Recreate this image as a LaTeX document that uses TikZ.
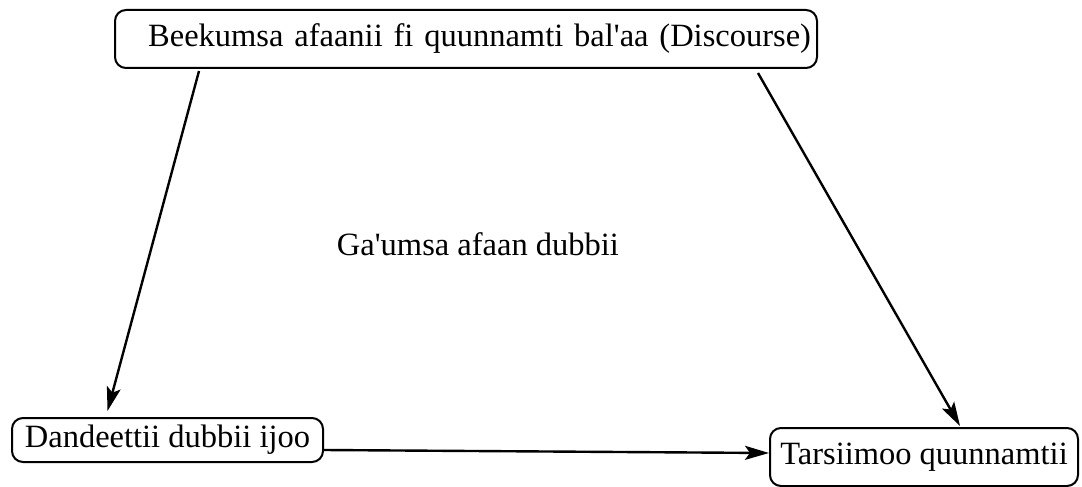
\documentclass[tikz,border=0pt]{standalone}
\usepackage{fontspec}
\setmainfont{Liberation Serif}
\usetikzlibrary{arrows.meta,positioning}

\tikzset{
  ibox/.style={draw=black,line width=2pt,rounded corners=11pt,inner sep=0pt,
    font=\fontsize{32.5}{38}\selectfont},
  link/.style={line width=2.4pt,-{Stealth[length=24pt,width=14pt,inset=5pt]}}
}

\begin{document}
\begin{tikzpicture}[x=1pt,y=-1pt]

\useasboundingbox (0,0) rectangle (1082,487);

\node[ibox,text width=690pt,align=right,inner xsep=6pt,minimum height=58pt] (beek) at (466,39) {Beekumsa afaanii fi quunnamti bal\textquotesingle aa (Discourse)};
\node[ibox,minimum width=311pt,minimum height=44pt] (dand) at (167.5,440) {Dandeettii dubbii ijoo};
\node[ibox,minimum width=308pt,minimum height=58pt] (tars) at (924,457) {Tarsiimoo quunnamtii};
\node[font=\fontsize{32.5}{38}\selectfont] (gaum) at (478,244) {Ga\textquotesingle umsa afaan dubbii};

\draw[link] ([xshift=85pt,yshift=-2pt]beek.south west) -- ([xshift=-60pt,yshift=6pt]dand.north);
\draw[link] ([xshift=-60pt,yshift=-4pt]beek.south east) -- ([xshift=36pt,yshift=1pt]tars.north);
\draw[link] ([yshift=-10pt]dand.east) -- ([yshift=4pt]tars.west);
\end{tikzpicture}
\end{document}
